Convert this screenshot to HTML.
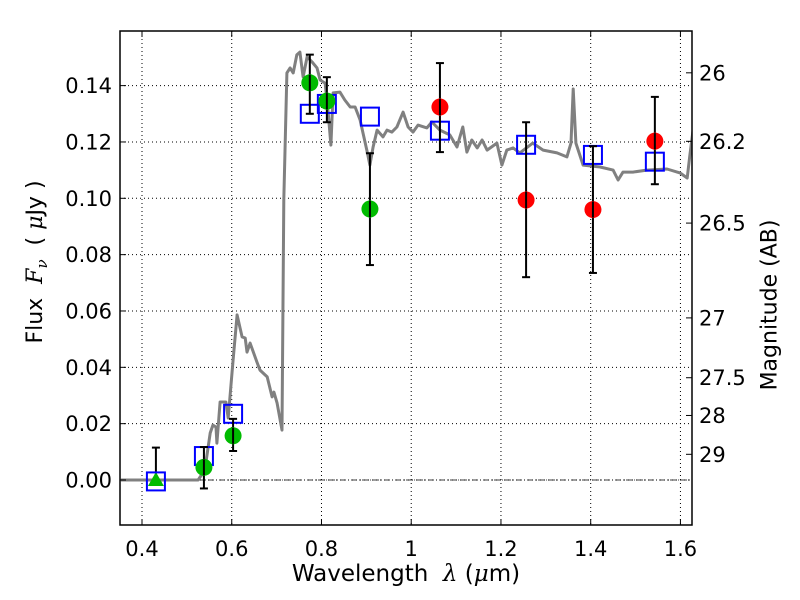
<!DOCTYPE html>
<html><head><meta charset="utf-8"><style>
html,body{margin:0;padding:0;background:#fff;}
svg{display:block;font-family:"DejaVu Sans","Liberation Sans",sans-serif;}
</style></head><body>
<svg id="chart" width="800" height="600" viewBox="0 0 800 600"></svg>
<script>
const specWave=[0.353,0.525,0.540,0.552,0.558,0.565,0.567,0.574,0.587,0.592,0.603,0.612,0.623,0.630,0.634,0.641,0.656,0.663,0.679,0.690,0.694,0.701,0.712,0.716,0.723,0.730,0.737,0.745,0.752,0.759,0.768,0.779,0.790,0.797,0.808,0.815,0.821,0.826,0.841,0.852,0.864,0.875,0.886,0.901,0.908,0.915,0.924,0.937,0.946,0.957,0.968,0.982,0.993,1.004,1.015,1.035,1.046,1.064,1.086,1.102,1.115,1.124,1.135,1.147,1.158,1.169,1.191,1.202,1.213,1.227,1.242,1.271,1.294,1.325,1.347,1.356,1.361,1.367,1.383,1.421,1.450,1.461,1.472,1.494,1.525,1.570,1.599,1.615,1.621,1.628];
const specFlux=[0,0,0.0035,0.0167,0.0195,0.0188,0.0131,0.0277,0.0277,0.0220,0.0426,0.0586,0.0508,0.0504,0.0454,0.0486,0.0419,0.0390,0.0366,0.0295,0.0312,0.0273,0.0177,0.0994,0.1445,0.1463,0.1445,0.1509,0.1519,0.1431,0.1502,0.1484,0.1463,0.1420,0.1409,0.1303,0.1189,0.1374,0.1377,0.1349,0.1324,0.1324,0.1278,0.1171,0.1118,0.1182,0.1242,0.1218,0.1242,0.1235,0.1253,0.1306,0.1253,0.1235,0.1260,0.1250,0.1271,0.1242,0.1225,0.1182,0.1253,0.1164,0.1207,0.1179,0.1207,0.1171,0.1196,0.1118,0.1171,0.1179,0.1161,0.1196,0.1171,0.1161,0.1147,0.1196,0.1388,0.1196,0.1118,0.1111,0.1100,0.1065,0.1093,0.1093,0.1100,0.1104,0.1090,0.1072,0.1154,0.124];
const modelWave=[0.431,0.538,0.603,0.774,0.812,0.908,1.064,1.256,1.405,1.543];
const modelFlux=[-0.0005,0.0085,0.0235,0.130,0.1335,0.129,0.124,0.119,0.1154,0.113];
const greenWave=[0.538,0.603,0.774,0.812,0.908];
const greenFlux=[0.0045,0.0157,0.141,0.1345,0.0962];
const greenHi=[0.0117,0.0217,0.151,0.143,0.116];
const greenLo=[-0.003,0.0103,0.130,0.127,0.0763];
const redWave=[1.064,1.256,1.405,1.543];
const redFlux=[0.1324,0.0994,0.096,0.1203];
const redHi=[0.148,0.127,0.1185,0.136];
const redLo=[0.1164,0.072,0.0735,0.105];
const triWave=[0.431];
const triFlux=[0.0];
const triHi=[0.0115];
const xTicks=[0.4,0.6,0.8,1.0,1.2,1.4,1.6];
const xTickLabels=["0.4","0.6","0.8","1","1.2","1.4","1.6"];
const yTicks=[0,0.02,0.04,0.06,0.08,0.10,0.12,0.14];
const yTickLabels=["0.00","0.02","0.04","0.06","0.08","0.10","0.12","0.14"];
const magTicks=[26,26.2,26.5,27,27.5,28,29];
const magTickLabels=["26","26.2","26.5","27","27.5","28","29"];

const L=120,R=692,T=31,B=525;
const X=w=>142+(w-0.4)*448.7;
const Y=f=>480-f*2817;
const magY=m=>Y(Math.pow(10,(23.9-m)/2.5));
const svg=document.getElementById('chart');
const NS='http://www.w3.org/2000/svg';
function mk(tag,attrs,parent){const e=document.createElementNS(NS,tag);for(const k in attrs)e.setAttribute(k,attrs[k]);(parent||svg).appendChild(e);return e;}

const defs=mk('defs',{});
const cp=mk('clipPath',{id:'clip'},defs);
mk('rect',{x:L,y:T,width:R-L,height:B-T},cp);

const grid=mk('g',{});


xTicks.forEach(t=>{mk('line',{x1:X(t),x2:X(t),y1:T,y2:B,stroke:'#000','stroke-width':1,'stroke-dasharray':'1,3'},grid);});
yTicks.forEach(t=>{mk('line',{x1:L,x2:R,y1:Y(t),y2:Y(t),stroke:'#000','stroke-width':1,'stroke-dasharray':'1,3'},grid);});
const zl=mk('line',{x1:L,x2:R,y1:Y(0),y2:Y(0),stroke:'#000','stroke-width':0.8,'stroke-dasharray':'6,2,1,2'});



const plot=mk('g',{'clip-path':'url(#clip)'});
let d='';specWave.forEach((w,i)=>{d+=(i?'L':'M')+X(w).toFixed(1)+','+Y(specFlux[i]).toFixed(1);});
const sp=mk('path',{d:d,fill:'none',stroke:'#808080','stroke-width':3,'stroke-linejoin':'round'},plot);



function errbar(w,hi,lo,name){
  const g=mk('g',{stroke:'#000','stroke-width':2},plot);
  
  
  const x=X(w);
  mk('line',{x1:x,x2:x,y1:Y(hi),y2:Y(lo)},g);
  mk('line',{x1:x-4,x2:x+4,y1:Y(hi),y2:Y(hi)},g);
  mk('line',{x1:x-4,x2:x+4,y1:Y(lo),y2:Y(lo)},g);
}
triWave.forEach((w,i)=>{
  errbar(w,triHi[i],triFlux[i],'triangle-error-bar');
  const x=X(w),y=Y(triFlux[i]);
  const p=mk('polygon',{points:`${x},${y-8} ${x-8},${y+6} ${x+8},${y+6}`,fill:'#00bb00'},plot);
  
  
});
modelWave.forEach((w,i)=>{
  const r=mk('rect',{x:X(w)-9,y:Y(modelFlux[i])-9,width:18,height:18,fill:'none',stroke:'#0000ff','stroke-width':2},plot);
  
  
});
greenWave.forEach((w,i)=>{
  errbar(w,greenHi[i],greenLo[i],'green-error-bar');
  const c=mk('circle',{cx:X(w),cy:Y(greenFlux[i]),r:8.5,fill:'#00bb00'},plot);
  
  
  mk('line',{x1:X(w),x2:X(w),y1:Y(greenFlux[i])-8,y2:Y(greenFlux[i])+8,stroke:'#000','stroke-width':2},plot);
});
redWave.forEach((w,i)=>{
  errbar(w,redHi[i],redLo[i],'red-error-bar');
  const c=mk('circle',{cx:X(w),cy:Y(redFlux[i]),r:8.5,fill:'#ff0000'},plot);
  
  
  mk('line',{x1:X(w),x2:X(w),y1:Y(redFlux[i])-8,y2:Y(redFlux[i])+8,stroke:'#000','stroke-width':2},plot);
});

const fr=mk('rect',{x:L,y:T,width:R-L,height:B-T,fill:'none',stroke:'#000','stroke-width':1.5});



xTicks.forEach((t,i)=>{
  mk('line',{x1:X(t),x2:X(t),y1:B,y2:B-6,stroke:'#000'});
  mk('line',{x1:X(t),x2:X(t),y1:T,y2:T+6,stroke:'#000'});
  const tx=mk('text',{x:X(t),y:556,'font-size':21,'text-anchor':'middle'});
  tx.textContent=xTickLabels[i];
  
  
});
yTicks.forEach((t,i)=>{
  mk('line',{x1:L,x2:L+6,y1:Y(t),y2:Y(t),stroke:'#000'});
  const tx=mk('text',{x:112,y:Y(t)+7.5,'font-size':21,'text-anchor':'end'});
  tx.textContent=yTickLabels[i];
  
  
});
magTicks.forEach((m,i)=>{
  mk('line',{x1:R,x2:R-6,y1:magY(m),y2:magY(m),stroke:'#000'});
  const tx=mk('text',{x:699,y:magY(m)+7.5,'font-size':21,'text-anchor':'start'});
  tx.textContent=magTickLabels[i];
  
  
});
</script>
<div style="position:absolute;left:0;top:0;width:800px;height:600px;pointer-events:none;font-family:'DejaVu Sans','Liberation Sans',sans-serif;">
  <div style="position:absolute;left:156px;width:500px;top:561px;text-align:center;font-size:23px;white-space:nowrap;">Wavelength&nbsp; <i style="font-family:'DejaVu Serif',serif">λ</i> (<i style="font-family:'DejaVu Serif',serif">μ</i>m)</div>
  <div style="position:absolute;left:37px;top:262px;transform:translate(-50%,-50%) rotate(-90deg);white-space:nowrap;font-size:22px;">Flux&nbsp; <i style="font-family:'DejaVu Serif',serif">F<sub style="font-size:15px">ν</sub></i> &nbsp;( <i style="font-family:'DejaVu Serif',serif">μ</i>Jy )</div>
  <div style="position:absolute;left:770px;top:305px;transform:translate(-50%,-50%) rotate(-90deg);white-space:nowrap;font-size:22px;">Magnitude (AB)</div>
</div>
</body></html>
